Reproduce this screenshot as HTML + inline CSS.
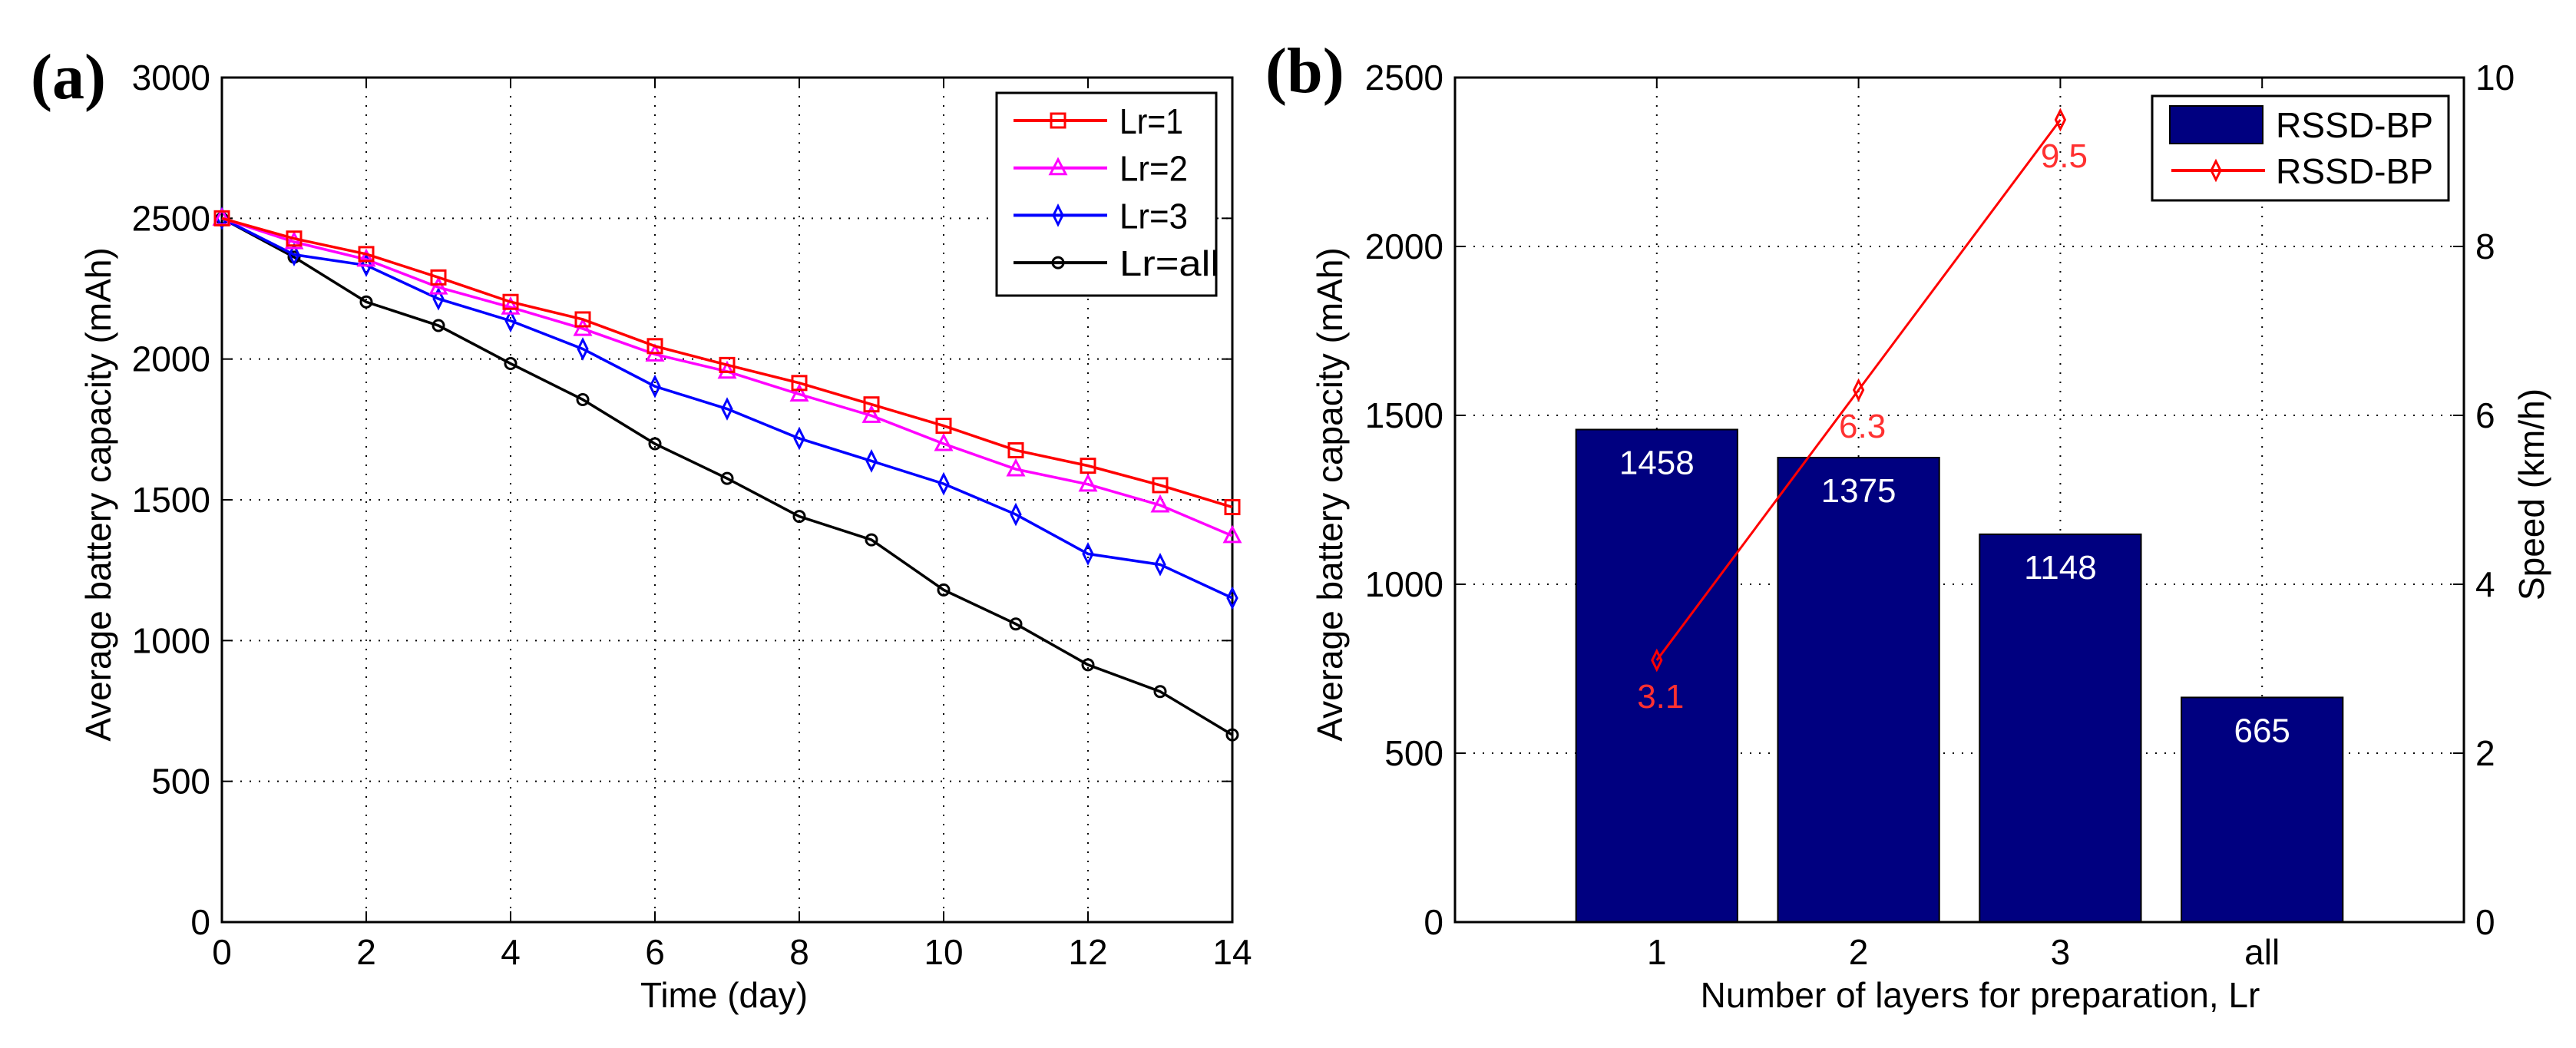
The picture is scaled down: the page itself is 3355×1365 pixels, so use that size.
<!DOCTYPE html>
<html><head><meta charset="utf-8"><style>
html,body{margin:0;padding:0;background:#fff}
svg{display:block}
text{font-family:"Liberation Sans",Arial,sans-serif}
</style></head><body>
<svg id="fig" width="3355" height="1365" viewBox="0 0 3355 1365" xmlns="http://www.w3.org/2000/svg">
<rect width="3355" height="1365" fill="#fff"/>
<g id="pa"></g>
<g id="pb"></g>
</svg>
<script>
// ---- Panel (a) data ----
const daysA = [0,1,2,3,4,5,6,7,8,9,10,11,12,13,14];
const lr1 = [2500,2428,2373,2290,2203,2141,2046,1979,1915,1839,1763,1676,1621,1552,1474];
const lr2 = [2500,2416,2354,2255,2184,2108,2017,1956,1875,1799,1699,1609,1555,1481,1372];
const lr3 = [2500,2371,2333,2214,2136,2036,1903,1823,1718,1638,1557,1448,1308,1270,1151];
const lrAll = [2500,2362,2203,2119,1984,1856,1699,1576,1441,1358,1180,1059,914,819,665];
const xTicksA = [0,2,4,6,8,10,12,14];
const yTicksA = [0,500,1000,1500,2000,2500,3000];
const seriesNames = ["Lr=1","Lr=2","Lr=3","Lr=all"];
// ---- Panel (b) data ----
const catsB = ["1","2","3","all"];
const barVals = [1458,1375,1148,665];
const speedCats = [1,2,3];
const speedVals = [3.1,6.3,9.5];
const yTicksB = [0,500,1000,1500,2000,2500];
const yTicksB2 = [0,2,4,6,8,10];

const NS="http://www.w3.org/2000/svg";
function mk(parent,tag,attrs,txt){const e=document.createElementNS(NS,tag);for(const k in attrs)e.setAttribute(k,attrs[k]);if(txt!==undefined)e.textContent=txt;parent.appendChild(e);return e;}
const SERIF='font-family:"Liberation Serif",serif;font-weight:bold;font-size:84px';

// ===== Panel A =====
const A=document.getElementById('pa');
const aL=289,aR=1605,aT=101,aB=1201;
const ax=v=>aL+(v-0)/(14-0)*(aR-aL);
const ay=v=>aB-(v/3000)*(aB-aT);
let t=mk(A,'text',{x:40,y:128,style:SERIF});t.textContent='(a)';


xTicksA.forEach(v=>{
  if(v>0&&v<14){const g=mk(A,'line',{x1:ax(v),x2:ax(v),y1:aT,y2:aB,stroke:'#000','stroke-width':2,'stroke-dasharray':'2,10'});
  }
  const tl=mk(A,'text',{x:ax(v),y:1256,'font-size':46,'text-anchor':'middle'},String(v));
  
  
  mk(A,'line',{x1:ax(v),x2:ax(v),y1:aB,y2:aB-14,stroke:'#000','stroke-width':2});
  mk(A,'line',{x1:ax(v),x2:ax(v),y1:aT,y2:aT+14,stroke:'#000','stroke-width':2});
});
yTicksA.forEach(v=>{
  if(v>0&&v<3000){const g=mk(A,'line',{x1:aL,x2:aR,y1:ay(v),y2:ay(v),stroke:'#000','stroke-width':2,'stroke-dasharray':'2,10'});
  }
  const tl=mk(A,'text',{x:274,y:ay(v)+16,'font-size':46,'text-anchor':'end'},String(v));
  
  
  mk(A,'line',{x1:aL,x2:aL+14,y1:ay(v),y2:ay(v),stroke:'#000','stroke-width':2});
  mk(A,'line',{x1:aR,x2:aR-14,y1:ay(v),y2:ay(v),stroke:'#000','stroke-width':2});
});
let fr=mk(A,'rect',{x:aL,y:aT,width:aR-aL,height:aB-aT,fill:'none',stroke:'#000','stroke-width':3});

t=mk(A,'text',{x:943,y:1312,'font-size':46,'text-anchor':'middle'},'Time (day)');

t=mk(A,'text',{x:0,y:0,'font-size':46,'text-anchor':'middle',transform:'translate(144,644) rotate(-90)'},'Average battery capacity (mAh)');


function marker(g,kind,x,y,color){
  if(kind==='sq') mk(g,'rect',{x:x-9,y:y-9,width:18,height:18,fill:'none',stroke:color,'stroke-width':3});
  else if(kind==='tri') mk(g,'polygon',{points:`${x},${y-11} ${x+10},${y+8} ${x-10},${y+8}`,fill:'none',stroke:color,'stroke-width':3});
  else if(kind==='dia') mk(g,'polygon',{points:`${x},${y-12} ${x+6},${y} ${x},${y+12} ${x-6},${y}`,fill:'none',stroke:color,'stroke-width':3});
  else mk(g,'circle',{cx:x,cy:y,r:7,fill:'none',stroke:color,'stroke-width':3});
}
const sers=[[lr1,'#ff0000','sq','series-lr1'],[lr2,'#ff00ff','tri','series-lr2'],[lr3,'#0000ff','dia','series-lr3'],[lrAll,'#000000','circ','series-lr-all']];
sers.slice().reverse().forEach(s=>{
  const g=mk(A,'g',{});
  
  
  mk(g,'polyline',{points:s[0].map((v,i)=>ax(daysA[i])+','+ay(v)).join(' '),fill:'none',stroke:s[1],'stroke-width':3.5});
  s[0].forEach((v,i)=>marker(g,s[2],ax(daysA[i]),ay(v),s[1]));
});
// legend A
const lgA=mk(A,'g',{});


mk(lgA,'rect',{x:1298,y:121,width:286,height:264,fill:'#fff',stroke:'#000','stroke-width':3});
sers.forEach((s,i)=>{
  const y=157+i*61.7;
  const e=mk(lgA,'g',{});
  
  
  mk(e,'line',{x1:1320,x2:1442,y1:y,y2:y,stroke:s[1],'stroke-width':4});
  marker(e,s[2],1378,y,s[1]);
  mk(e,'text',{x:1458,y:y+17,'font-size':46,textLength:[83,89,89,130][i],lengthAdjust:'spacingAndGlyphs'},seriesNames[i]);
});

// ===== Panel B =====
const B=document.getElementById('pb');
const bL=1895,bR=3209,bT=101,bB=1201;
const bx=c=>bL+(c/5)*(bR-bL);
const by=v=>bB-(v/2500)*(bB-bT);
const by2=v=>bB-(v/10)*(bB-bT);
t=mk(B,'text',{x:1648,y:120,style:SERIF},'(b)');

catsB.forEach((c,i)=>{
  const x=bx(i+1);
  const g=mk(B,'line',{x1:x,x2:x,y1:bT,y2:bB,stroke:'#000','stroke-width':2,'stroke-dasharray':'2,10'});
  
  mk(B,'line',{x1:x,x2:x,y1:bB,y2:bB-14,stroke:'#000','stroke-width':2});
  mk(B,'line',{x1:x,x2:x,y1:bT,y2:bT+14,stroke:'#000','stroke-width':2});
  const tl=mk(B,'text',{x:x,y:1256,'font-size':46,'text-anchor':'middle'},c);
  
});
yTicksB.forEach(v=>{
  if(v>0&&v<2500){const g=mk(B,'line',{x1:bL,x2:bR,y1:by(v),y2:by(v),stroke:'#000','stroke-width':2,'stroke-dasharray':'2,10'});
  }
  mk(B,'line',{x1:bL,x2:bL+14,y1:by(v),y2:by(v),stroke:'#000','stroke-width':2});
  const tl=mk(B,'text',{x:1880,y:by(v)+16,'font-size':46,'text-anchor':'end'},String(v));
  
});
yTicksB2.forEach(v=>{
  mk(B,'line',{x1:bR,x2:bR-14,y1:by2(v),y2:by2(v),stroke:'#000','stroke-width':2});
  const tl=mk(B,'text',{x:3224,y:by2(v)+16,'font-size':46},String(v));
  
});
const bw=(bx(1)-bx(0))*0.8;
barVals.forEach((v,i)=>{
  const x=bx(i+1);
  const r=mk(B,'rect',{x:x-bw/2,y:by(v),width:bw,height:bB-by(v),fill:'#000080',stroke:'#000','stroke-width':2});
  
  
  const tl=mk(B,'text',{x:x,y:by(v)+58,'font-size':44,'text-anchor':'middle',fill:'#fff'},String(v));
  
});
fr=mk(B,'rect',{x:bL,y:bT,width:bR-bL,height:bB-bT,fill:'none',stroke:'#000','stroke-width':3});

const sg=mk(B,'g',{});


mk(sg,'polyline',{points:speedVals.map((v,i)=>bx(speedCats[i])+','+by2(v)).join(' '),fill:'none',stroke:'#ff0000','stroke-width':3});
speedVals.forEach((v,i)=>{
  marker(sg,'dia',bx(speedCats[i]),by2(v),'#ff0000');
  const tl=mk(sg,'text',{x:bx(speedCats[i])+5,y:by2(v)+62,'font-size':44,'text-anchor':'middle',fill:'#ff3030'},v.toFixed(1));
  
});
t=mk(B,'text',{x:2579,y:1312,'font-size':46,'text-anchor':'middle'},'Number of layers for preparation, Lr');

t=mk(B,'text',{x:0,y:0,'font-size':46,'text-anchor':'middle',transform:'translate(1748,644) rotate(-90)'},'Average battery capacity (mAh)');

t=mk(B,'text',{x:0,y:0,'font-size':46,'text-anchor':'middle',transform:'translate(3313,644) rotate(-90)'},'Speed (km/h)');

const lgB=mk(B,'g',{});


mk(lgB,'rect',{x:2803,y:125,width:386,height:136,fill:'#fff',stroke:'#000','stroke-width':3});
mk(lgB,'rect',{x:2826,y:138,width:121,height:49,fill:'#000080',stroke:'#000','stroke-width':2});
mk(lgB,'text',{x:2964,y:179,'font-size':46,textLength:205,lengthAdjust:'spacingAndGlyphs'},'RSSD-BP');
mk(lgB,'line',{x1:2828,x2:2950,y1:222,y2:222,stroke:'#ff0000','stroke-width':4});
marker(lgB,'dia',2886,222,'#ff0000');
mk(lgB,'text',{x:2964,y:239,'font-size':46,textLength:205,lengthAdjust:'spacingAndGlyphs'},'RSSD-BP');
</script>
</body></html>
